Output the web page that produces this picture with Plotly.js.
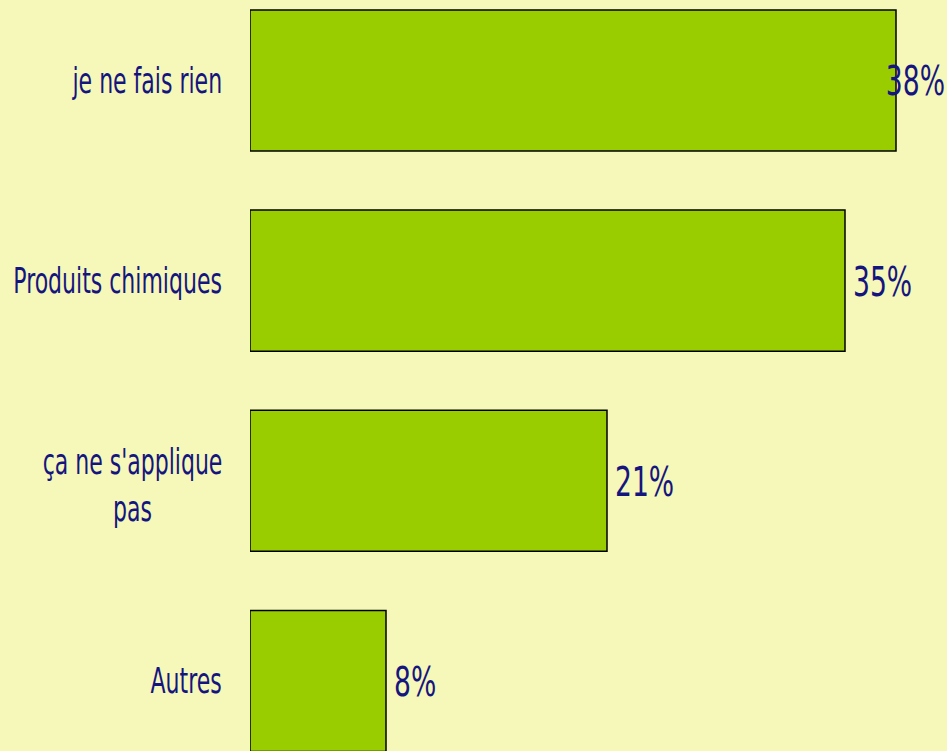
<!DOCTYPE html>
<html>
<head>
<meta charset="utf-8">
<script src="https://cdn.plot.ly/plotly-3.0.1.min.js"></script>
<style>html,body{margin:0;padding:0;background:#F5F8B8;}</style>
</head>
<body>
<div id="chart" style="width:947px;height:751px;"></div>
<script>
const categories = ["je ne fais rien", "Produits chimiques", "ça ne s'applique<br>pas", "Autres"];
const values = [38, 35, 21, 8];
const valueLabels = ["38%", "35%", "21%", "8%"];

const textColor = "#15157F";
const fontFamily = "'DejaVu Sans Condensed', 'DejaVu Sans', sans-serif";
const labelSize = 36, valueSize = 40;
const labelSqueeze = 0.68, valueSqueeze = 0.74;

const trace = {
  type: "bar",
  orientation: "h",
  y: categories,
  x: values,
  marker: { color: "#9ACD00", line: { color: "#000000", width: 1.5 } },
  hoverinfo: "none"
};

const xMax = 41;
const annotations = [];
categories.forEach((c, i) => {
  annotations.push({
    xref: "paper", yref: "y", x: 0, y: c, xanchor: "right", yanchor: "middle",
    xshift: -26, yshift: c.indexOf("<br>") >= 0 ? -4 : 0, text: c, showarrow: false, align: "center",
    name: "label-right",
    font: { family: fontFamily, size: labelSize, color: textColor }
  });
  const fits = values[i] + 3.6 < xMax;
  annotations.push(fits ? {
    xref: "x", yref: "y", x: values[i], y: c, xanchor: "left", yanchor: "middle",
    xshift: 6, yshift: -1, text: valueLabels[i], showarrow: false, name: "value-left",
    font: { family: fontFamily, size: valueSize, color: textColor }
  } : {
    xref: "paper", yref: "y", x: 1, y: c, xanchor: "right", yanchor: "middle",
    xshift: 0, yshift: -1, text: valueLabels[i], showarrow: false, name: "value-right",
    font: { family: fontFamily, size: valueSize, color: textColor }
  });
});

const layout = {
  width: 947, height: 751,
  margin: { l: 250, r: 0, t: 0, b: 0, pad: 0 },
  paper_bgcolor: "#F5F8B8",
  plot_bgcolor: "#F5F8B8",
  bargap: 0.295,
  showlegend: false,
  xaxis: { range: [0, xMax], visible: false, showgrid: false, zeroline: false },
  yaxis: { type: "category", range: [3.35, -0.402], showticklabels: false, showgrid: false, zeroline: false, ticks: "" },
  annotations: annotations
};

function squeeze(el, sx, anchor) {
  const bb = el.getBBox();
  const ax = anchor === "right" ? bb.x + bb.width : (anchor === "left" ? bb.x : bb.x + bb.width / 2);
  const prev = el.getAttribute("transform") || "";
  el.setAttribute("transform", prev + " translate(" + ax + ",0) scale(" + sx + ",1) translate(" + (-ax) + ",0)");
}

Plotly.newPlot("chart", [trace], layout, { displayModeBar: false, staticPlot: true }).then(gd => {
  const texts = gd.querySelectorAll("g.annotation text.annotation-text");
  texts.forEach((t, idx) => {
    const ann = layout.annotations[idx];
    if (ann.name === "label-right") squeeze(t, labelSqueeze, "right");
    else if (ann.name === "value-left") squeeze(t, valueSqueeze, "left");
    else squeeze(t, valueSqueeze, "right");
  });
});
</script>
</body>
</html>
